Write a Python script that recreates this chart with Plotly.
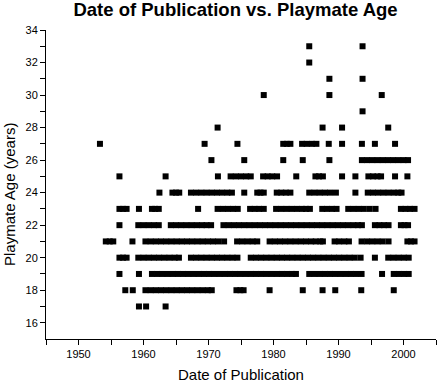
import plotly.graph_objects as go

# Publication dates (decimal years) of playmates, grouped by age in years
age17 = [1959.3, 1960.4, 1963.4]
age18 = [1957.2, 1958.35,
         1960.3, 1961.1, 1961.9, 1962.7, 1963.5, 1964.3, 1965.1, 1965.9, 1966.7, 1967.5,
         1968.3, 1969.1, 1969.9, 1970.5,
         1974.3, 1974.9, 1975.4, 1979.4, 1984.5, 1987.55, 1989.5, 1993.5, 1998.5]
age19 = [1956.3, 1959.3,
         1961.3, 1962.1, 1962.9, 1963.7, 1964.5, 1965.3, 1966.1, 1966.9, 1967.7, 1968.5,
         1969.3, 1970.1, 1970.9, 1971.7, 1972.5, 1973.3, 1974.1, 1974.9, 1975.7, 1976.5,
         1977.3, 1978.1, 1978.9, 1979.7, 1980.5, 1981.3, 1982.1, 1982.9, 1983.45,
         1985.5, 1986.3, 1987.1, 1987.9, 1988.7, 1989.5, 1990.3, 1991.1, 1991.9, 1992.7, 1993.55,
         1996.7, 1998.5, 1999.3, 2000.1, 2000.8]
age20 = [1956.3, 1956.85, 1957.4,
         1959.2, 1960.0, 1960.8, 1961.6, 1962.4, 1963.2, 1964.0, 1964.8, 1965.45,
         1967.3, 1968.1, 1968.9, 1969.7, 1970.5, 1971.3, 1972.1, 1972.9, 1973.7, 1974.45,
         1976.5, 1977.3, 1978.1, 1978.9, 1979.7, 1980.5, 1981.3, 1982.1, 1982.9, 1983.7,
         1984.5, 1985.3, 1986.1, 1986.9, 1987.7, 1988.5, 1989.3, 1990.1, 1990.9, 1991.7,
         1992.5, 1993.4,
         1995.6, 1997.65, 1998.45, 1999.25, 2000.05, 2000.8]
age21 = [1954.2, 1954.8, 1955.35, 1958.3,
         1960.3, 1961.1, 1961.9, 1962.7, 1963.5, 1964.3, 1965.1, 1965.9, 1966.7, 1967.5,
         1968.3, 1969.1, 1969.9, 1970.7, 1971.5, 1972.4,
         1974.4, 1975.2, 1976.0, 1976.8, 1977.5,
         1979.4, 1980.2, 1981.0, 1981.8, 1982.6, 1983.4, 1984.2, 1985.0, 1985.8, 1986.5,
         1987.2, 1987.6,
         1989.4, 1990.1, 1990.9, 1991.6,
         1993.55, 1994.4, 1995.2, 1996.0, 1996.8, 1997.7,
         2000.6, 2001.15, 2001.7]
age22 = [1956.3,
         1959.2, 1960.0, 1960.8, 1961.6, 1962.35,
         1964.2, 1965.0, 1965.8, 1966.6, 1967.4, 1968.2, 1969.0, 1969.7, 1970.4,
         1972.3, 1973.1, 1973.9, 1974.7, 1975.5, 1976.3, 1977.1, 1977.9, 1978.7, 1979.5,
         1980.3, 1981.1, 1981.9, 1982.7, 1983.5, 1984.3, 1985.1, 1985.9, 1986.7, 1987.5,
         1988.3, 1989.1, 1989.9, 1990.7, 1991.5, 1992.3, 1993.0, 1993.6,
         1995.6, 1996.3, 1997.0, 1997.7,
         1999.6, 2000.15, 2000.7]
age23 = [1956.3, 1956.85, 1957.4, 1959.3, 1961.3, 1961.8, 1962.35, 1968.4,
         1971.4, 1972.2, 1973.0, 1973.8, 1974.5,
         1976.4, 1977.1, 1977.8, 1978.5,
         1980.4, 1981.2, 1982.0, 1982.8, 1983.6, 1984.4, 1985.0, 1985.6,
         1987.5, 1988.2, 1989.0, 1989.7,
         1991.5, 1992.3, 1993.1, 1993.9, 1994.8, 1995.7,
         1999.6, 2000.3, 2001.0, 2001.7]
age24 = [1962.45, 1964.45, 1965.0, 1965.5,
         1967.3, 1968.1, 1968.9, 1969.7, 1970.5, 1971.3, 1972.1, 1972.9, 1973.6,
         1975.5, 1977.5, 1978.0, 1978.5,
         1980.5, 1981.2, 1981.9, 1982.6,
         1985.5, 1986.3, 1987.1, 1987.9, 1988.7, 1989.6,
         1992.6,
         1994.5, 1995.3, 1996.1, 1996.9, 1997.7, 1998.5, 1999.2, 1999.7]
age25 = [1956.3, 1963.4, 1971.45,
         1973.4, 1974.2, 1975.0, 1975.8, 1976.5,
         1978.4, 1979.1, 1979.8, 1980.55,
         1983.5, 1986.45, 1987.0, 1987.6, 1990.55, 1992.6,
         1994.6, 1995.3, 1996.0, 1996.55, 1998.7, 2000.6]
age26 = [1970.45, 1975.5, 1981.5, 1984.5, 1988.6,
         1993.6, 1994.4, 1995.2, 1996.0, 1996.8, 1997.6, 1998.4, 1999.2, 2000.0, 2000.7]
age27 = [1953.3, 1969.4, 1974.45, 1981.5, 1982.05, 1982.6,
         1984.4, 1985.1, 1985.9, 1986.6, 1988.5, 1990.55, 1993.6, 1995.6, 1998.7]
age28 = [1971.4, 1987.55, 1990.55, 1997.65]
age29 = [1993.7]
age30 = [1978.5, 1988.6, 1996.65]
age31 = [1988.6, 1993.7]
age32 = [1985.5]
age33 = [1985.5, 1993.7]

ages = [17, 18, 19, 20, 21, 22, 23, 24, 25, 26, 27, 28, 29, 30, 31, 32, 33]
date_lists = [age17, age18, age19, age20, age21, age22, age23, age24, age25,
              age26, age27, age28, age29, age30, age31, age32, age33]

x_ticks = [1950, 1960, 1970, 1980, 1990, 2000]
y_ticks = [16, 18, 20, 22, 24, 26, 28, 30, 32, 34]

xs, ys = [], []
for a, dl in zip(ages, date_lists):
    xs.extend(dl)
    ys.extend([a] * len(dl))

fig = go.Figure()
fig.add_trace(go.Scatter(
    x=xs, y=ys, mode="markers",
    marker=dict(symbol="square", size=6, color="black", line=dict(width=0)),
    showlegend=False, hoverinfo="skip",
))

W, H = 437, 383
L, R, T, B = 46, 1, 30, 44
pw, ph = W - L - R, H - T - B

axis_font = dict(family="Liberation Sans, Arial, sans-serif", size=11, color="black")

fig.update_layout(
    width=W, height=H,
    margin=dict(l=L, r=R, t=T, b=B, pad=0),
    paper_bgcolor="white", plot_bgcolor="white",
    font=dict(family="Liberation Sans, Arial, sans-serif", color="black"),
    title=dict(
        text="<b>Date of Publication vs. Playmate Age</b>",
        font=dict(family="Liberation Sans, Arial, sans-serif", size=18.5, color="black"),
        xref="container", x=235.5 / W, xanchor="center",
        yref="container", y=1 - 9.5 / H, yanchor="middle",
    ),
    xaxis=dict(
        range=[1945, 2005], tickmode="array", tickvals=x_ticks,
        ticktext=[str(v) for v in x_ticks],
        showgrid=False, zeroline=False, showline=True, linecolor="black", linewidth=1,
        ticks="outside", ticklen=5, tickwidth=1, tickcolor="black",
        tickfont=axis_font,
        minor=dict(tickvals=[1945, 1955, 1965, 1975, 1985, 1995, 2005],
                   ticks="outside", ticklen=5, tickwidth=1, tickcolor="black", showgrid=False),
    ),
    yaxis=dict(
        range=[15, 34], tickmode="array", tickvals=y_ticks,
        ticktext=[str(v) for v in y_ticks],
        showgrid=False, zeroline=False, showline=True, linecolor="black", linewidth=1,
        ticks="outside", ticklen=5, tickwidth=1, tickcolor="black",
        tickfont=axis_font,
        minor=dict(tickvals=[17, 19, 21, 23, 25, 27, 29, 31, 33],
                   ticks="outside", ticklen=5, tickwidth=1, tickcolor="black", showgrid=False),
    ),
)

fig.add_annotation(
    text="Date of Publication", xref="paper", yref="paper",
    x=(241 - L) / pw, y=-(374 - (T + ph)) / ph, xanchor="center", yanchor="middle",
    showarrow=False, font=dict(family="Liberation Sans, Arial, sans-serif", size=15, color="black"),
)
fig.add_annotation(
    text="Playmate Age (years)", xref="paper", yref="paper", textangle=-90,
    x=(9 - L) / pw, y=((T + ph) - 195) / ph, xanchor="center", yanchor="middle",
    showarrow=False, font=dict(family="Liberation Sans, Arial, sans-serif", size=15, color="black"),
)

fig.write_html(
    "out.html",
    config={"displayModeBar": False},
    post_script="document.body.style.margin='0';document.body.style.padding='0';"
                "document.body.style.overflow='hidden';",
)
